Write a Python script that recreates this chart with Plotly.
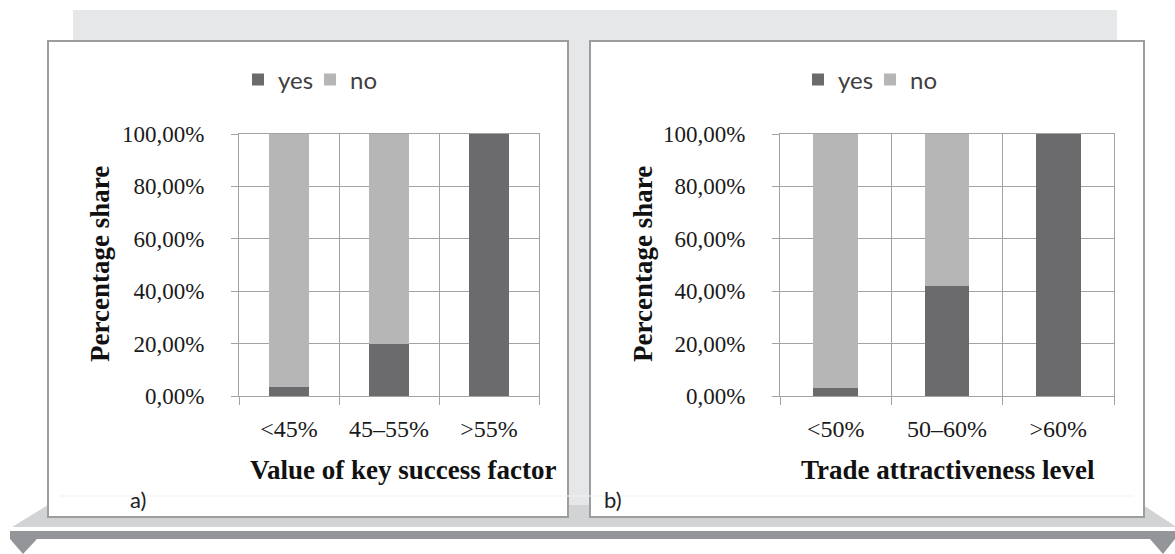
import plotly.graph_objects as go

# Panel a): share of "yes"/"no" answers by value of key success factor
key_cats = ["<45%", "45–55%", ">55%"]
key_yes = [0.035, 0.20, 1.00]
key_no = [0.965, 0.80, 0.00]

# Panel b): share of "yes"/"no" answers by trade attractiveness level
trade_cats = ["<50%", "50–60%", ">60%"]
trade_yes = [0.03, 0.42, 1.00]
trade_no = [0.97, 0.58, 0.00]

W, H = 1175, 554
YES_COLOR = "#6b6b6d"
NO_COLOR = "#b6b6b6"
GRID = "#a3a3a3"
SERIF = "Liberation Serif"
SANS = "Lato"


def px(x):
    return x / W


def py(y):
    return 1 - y / H


fig = go.Figure()
for cats, yes, no, xa, ya, lg in [
    (key_cats, key_yes, key_no, "x", "y", "legend"),
    (trade_cats, trade_yes, trade_no, "x2", "y2", "legend2"),
]:
    fig.add_bar(x=cats, y=yes, name="yes", marker_color=YES_COLOR, marker_line_width=0,
                width=0.4, xaxis=xa, yaxis=ya, legend=lg)
    fig.add_bar(x=cats, y=no, name="no", marker_color=NO_COLOR, marker_line_width=0,
                width=0.4, xaxis=xa, yaxis=ya, legend=lg)

xaxis_style = dict(
    type="category", range=[-0.5, 2.5], tickson="boundaries",
    ticks="outside", ticklen=8, tickcolor=GRID, tickwidth=1,
    showgrid=True, gridcolor=GRID, gridwidth=1,
    showline=True, linecolor=GRID, linewidth=1, mirror=True,
    tickfont=dict(family=SERIF, size=24, color="#1a1a1a"),
    ticklabelstandoff=11, fixedrange=True,
)
yaxis_style = dict(
    range=[0, 1], dtick=0.2, tickformat=".2%",
    ticks="outside", ticklen=7, tickcolor=GRID, tickwidth=1,
    showgrid=True, gridcolor=GRID, gridwidth=1, zeroline=False,
    showline=True, linecolor=GRID, linewidth=1, mirror=True,
    tickfont=dict(family=SERIF, size=23, color="#1a1a1a"),
    ticklabelstandoff=22, fixedrange=True,
)

legend_style = dict(
    orientation="h", xanchor="left", yanchor="middle",
    font=dict(family=SANS, size=24, color="#404040"),
    bgcolor="rgba(0,0,0,0)", traceorder="normal", itemclick=False,
    entrywidth=27, entrywidthmode="pixels",
)

# Decorative background: back band, shelf, base bar with feet, two white panels
shapes = [
    dict(type="rect", x0=px(73), x1=px(1117), y0=py(10), y1=py(505),
         fillcolor="#e6e7e8", line_width=0),
    dict(type="path",
         path=f"M {px(12)} {py(527)} L {px(48)} {py(505)} L {px(1143)} {py(505)} "
              f"L {px(1175)} {py(526)} L {px(1175)} {py(527)} Z",
         fillcolor="#d1d3d4", line_width=0),
    dict(type="rect", x0=px(10), x1=px(1175), y0=py(531), y1=py(539),
         fillcolor="#939598", line_width=0),
    dict(type="path",
         path=f"M {px(10)} {py(539)} L {px(37)} {py(539)} L {px(23)} {py(554)} Z",
         fillcolor="#939598", line_width=0),
    dict(type="path",
         path=f"M {px(1150)} {py(539)} L {px(1175)} {py(539)} L {px(1163)} {py(554)} Z",
         fillcolor="#939598", line_width=0),
    dict(type="rect", x0=px(48), x1=px(568), y0=py(41), y1=py(517),
         fillcolor="white", line=dict(color="#9d9d9d", width=2)),
    dict(type="rect", x0=px(590), x1=px(1144), y0=py(41), y1=py(517),
         fillcolor="white", line=dict(color="#9d9d9d", width=2)),
    dict(type="line", x0=px(60), x1=px(1133), y0=py(496), y1=py(496),
         line=dict(color="#f1f1f1", width=1)),
]
for s in shapes:
    s.update(xref="paper", yref="paper", layer="below")

title_font = dict(family=SERIF, size=27, color="#111111")
annotations = [
    dict(text="<b>Percentage share</b>", x=px(100), y=py(264), textangle=-90,
         font=title_font),
    dict(text="<b>Percentage share</b>", x=px(643), y=py(264), textangle=-90,
         font=title_font),
    dict(text="<b>Value of key success factor</b>", x=px(248), y=py(470),
         xanchor="left", font=title_font),
    dict(text="<b>Trade attractiveness level</b>", x=px(948), y=py(470),
         font=title_font),
    dict(text="a)", x=px(138), y=py(500), font=dict(family=SANS, size=22, color="#222222")),
    dict(text="b)", x=px(613), y=py(500), font=dict(family=SANS, size=22, color="#222222")),
]
for a in annotations:
    a.update(xref="paper", yref="paper", showarrow=False)
    a.setdefault("xanchor", "center")
    a.setdefault("yanchor", "middle")

fig.update_layout(
    width=W, height=H, margin=dict(l=0, r=0, t=0, b=0, autoexpand=False),
    paper_bgcolor="white", plot_bgcolor="rgba(0,0,0,0)",
    barmode="stack", separators=", ",
    xaxis=dict(domain=[px(239), px(539)], anchor="y", **xaxis_style),
    yaxis=dict(domain=[py(396), py(134)], anchor="x", **yaxis_style),
    xaxis2=dict(domain=[px(780), px(1114)], anchor="y2", **xaxis_style),
    yaxis2=dict(domain=[py(396), py(134)], anchor="x2", **yaxis_style),
    legend=dict(x=px(238), y=py(80), **legend_style),
    legend2=dict(x=px(798), y=py(80), **legend_style),
    shapes=shapes, annotations=annotations,
    showlegend=True,
)

fig.write_html("out.html")
